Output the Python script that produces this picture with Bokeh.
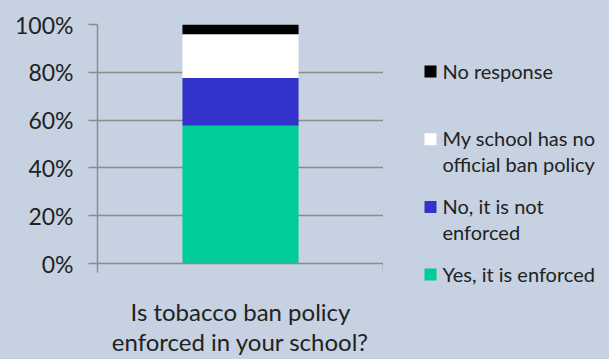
from bokeh.plotting import figure
from bokeh.layouts import row, column
from bokeh.models import Range1d, FixedTicker, NumeralTickFormatter, ColumnDataSource
from bokeh.core.properties import value
from bokeh.embed import file_html
from bokeh.resources import INLINE

category = ["Is tobacco ban policy\nenforced in your school?"]
series = ["Yes, it is enforced", "No, it is not\nenforced",
          "My school has no\nofficial ban policy", "No response"]
yes = [0.576]
no = [0.200]
no_policy = [0.183]
no_response = [0.041]
colors = ["#00cc99", "#3333cc", "#ffffff", "#000000"]
y_ticks = [0, 0.2, 0.4, 0.6, 0.8, 1.0]

BG = "#c6d1e1"
TXT = "#222222"
GRID = "#8c8c8c"
FONT = "Lato"

keys = ["yes", "no", "no_policy", "no_response"]
source = ColumnDataSource(dict(x=[0.5], yes=yes, no=no, no_policy=no_policy, no_response=no_response))

# ---------------- chart ----------------
p = figure(width=383, height=359, output_backend="svg", toolbar_location=None,
           x_range=Range1d(0, 1), y_range=Range1d(0, 1),
           min_border_left=97, min_border_right=0, min_border_top=24, min_border_bottom=81)
p.background_fill_color = BG
p.border_fill_color = BG
p.outline_line_color = None

rs = p.vbar_stack(keys, x="x", width=0.406, color=colors, line_color=None, source=source)

p.yaxis.ticker = FixedTicker(ticks=y_ticks)
p.yaxis.formatter = NumeralTickFormatter(format="0%")
p.yaxis.axis_line_color = GRID
p.yaxis.axis_line_width = 1.5
p.yaxis.major_tick_line_color = GRID
p.yaxis.major_tick_line_width = 1.5
p.yaxis.major_tick_out = 9
p.yaxis.major_tick_in = 0
p.yaxis.minor_tick_line_color = None
p.yaxis.major_label_text_font = FONT
p.yaxis.major_label_text_font_size = "23px"
p.yaxis.major_label_text_color = TXT
p.yaxis.major_label_standoff = 15

p.xaxis.ticker = FixedTicker(ticks=[0.5], minor_ticks=[0, 1])
p.xaxis.major_label_overrides = {0.5: category[0]}
p.xaxis.axis_line_color = GRID
p.xaxis.axis_line_width = 1.5
p.xaxis.major_tick_line_color = None
p.xaxis.minor_tick_line_color = GRID
p.xaxis.minor_tick_line_width = 1.5
p.xaxis.minor_tick_out = 9
p.xaxis.minor_tick_in = 0
p.xaxis.major_label_text_font = FONT
p.xaxis.major_label_text_font_size = "24px"
p.xaxis.major_label_text_color = TXT
p.xaxis.major_label_text_line_height = 1.06
p.xaxis.major_label_standoff = 24

p.xgrid.grid_line_color = None
p.ygrid.ticker = FixedTicker(ticks=y_ticks)
p.ygrid.grid_line_color = GRID
p.ygrid.grid_line_width = 1.5

# ---------------- legend panel ----------------
lg = figure(width=226, height=359, output_backend="svg", toolbar_location=None,
            x_range=Range1d(0, 226), y_range=Range1d(359, 0),
            min_border_left=0, min_border_right=0, min_border_top=0, min_border_bottom=0,
            x_axis_type=None, y_axis_type=None)
lg.background_fill_color = BG
lg.border_fill_color = BG
lg.outline_line_color = None
lg.grid.grid_line_color = None

order = list(reversed(range(len(series))))  # top entry = last stacked series
first_baseline, step = 77, 67.7
baselines = [first_baseline + k * step for k in range(len(order))]
leg_src = ColumnDataSource(dict(
    label=[series[i] for i in order],
    color=[colors[i] for i in order],
    sq_x=[47] * len(order),
    sq_y=[b - 6 for b in baselines],
    tx=[59] * len(order),
    ty=[b - 19 for b in baselines],
))
lg.rect(x="sq_x", y="sq_y", width=12, height=12, fill_color="color", line_color=None, source=leg_src)
lg.text(x="tx", y="ty", text="label", source=leg_src, text_font=value(FONT),
        text_font_size="20px", text_color=TXT, text_baseline="top", text_align="left",
        text_line_height=1.07)

layout = row(p, column(lg, spacing=0), spacing=0)
html = file_html(layout, INLINE)
html = html.replace("</head>", "<style>html,body{background:%s;}</style></head>" % BG, 1)
open("out.html", "w").write(html)
